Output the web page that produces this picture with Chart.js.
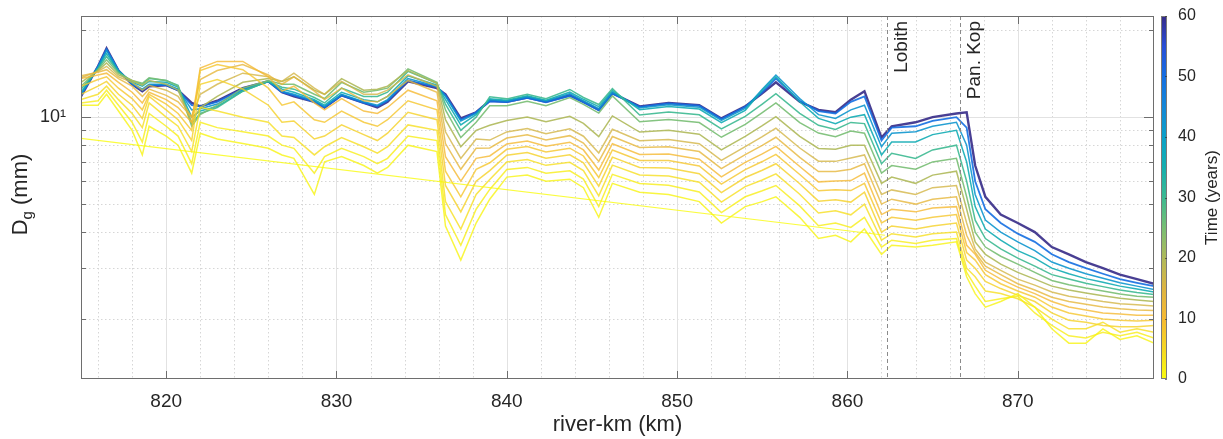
<!DOCTYPE html>
<html>
<head>
<meta charset="utf-8">
<script src="https://cdn.jsdelivr.net/npm/chart.js@4.4.1/dist/chart.umd.min.js"></script>
<style>
  html, body { margin: 0; padding: 0; background: #fff; }
  #wrap { width: 1223px; height: 439px; }
</style>
</head>
<body>
<div id="wrap"><canvas id="dgChart" width="1223" height="439"></canvas></div>
<script>
// river-km stations shared by all time profiles
const riverKm = [815, 816, 816.5, 817.2, 818, 818.6, 819, 820, 820.7, 821.5,
  822, 823, 824.5, 826, 826.8, 827.5, 828.7, 829.3, 830.3, 831.6,
  832.4, 833, 834.2, 835.9, 836.4, 837.3, 838.2, 839, 840, 841.2,
  842.3, 843.7, 844.5, 845.4, 846.2, 847.8, 849.5, 851.3, 852.6, 854,
  855, 855.8, 857.2, 858.3, 859.3, 860.2, 861, 862, 862.6, 864,
  865, 866.4, 867, 867.5, 868.1, 869, 870, 871, 872, 873,
  874, 875, 876, 877, 878];

// initial profile (t = 0), a straight line in log space
const initKm = [815, 862.2];
const dg_t0 = [8.45, 3.9];

// Dg (mm) per year
const dg_t1 = [11.0, 11.0, 12.0, 10.5, 9.0, 7.4, 9.3, 8.6, 8.0, 6.4,
  8.8, 8.4, 8.1, 7.8, 7.4, 7.2, 5.4, 7.0, 7.3, 6.8,
  6.4, 6.7, 8.0, 7.6, 4.2, 3.2, 4.3, 5.2, 6.2, 6.3,
  6.0, 6.1, 5.7, 4.5, 5.9, 5.5, 5.4, 5.1, 4.3, 4.9,
  5.1, 5.3, 4.5, 3.8, 3.9, 3.7, 4.1, 3.35, 3.6, 3.55,
  3.6, 3.7, 2.8, 2.45, 2.2, 2.3, 2.45, 2.2, 1.85, 1.65,
  1.65, 1.85, 1.7, 1.75, 1.65];
const dg_t2 = [11.2, 11.4, 12.4, 11.0, 9.6, 8.2, 10.3, 9.3, 8.6, 6.9,
  9.6, 9.2, 8.9, 8.6, 8.0, 7.8, 6.4, 7.3, 7.8, 7.3,
  6.9, 7.2, 8.6, 8.3, 4.6, 3.6, 4.8, 5.62, 6.59, 6.70,
  6.39, 6.52, 6.10, 4.9, 6.34, 5.89, 5.81, 5.51, 4.67, 5.3,
  5.56, 5.8, 4.93, 4.21, 4.3, 4.15, 4.5, 3.55, 3.75, 3.65,
  3.75, 3.8, 2.9, 2.6, 2.3, 2.35, 2.4, 2.1, 1.9, 1.75,
  1.72, 1.8, 1.75, 1.8, 1.72];
const dg_t4 = [11.5, 12.0, 12.8, 11.5, 10.3, 9.2, 11.2, 10.0, 9.3, 7.6,
  10.8, 10.5, 10.0, 9.6, 8.6, 8.5, 7.4, 7.9, 8.5, 7.9,
  7.5, 7.9, 9.4, 9.0, 5.1, 4.1, 5.4, 6.08, 6.99, 7.13,
  6.81, 6.98, 6.53, 5.34, 6.82, 6.31, 6.25, 5.95, 5.08, 5.75,
  6.06, 6.36, 5.41, 4.66, 4.74, 4.59, 5.0, 3.75, 3.95, 3.85,
  3.95, 4.0, 3.0, 2.8, 2.5, 2.45, 2.35, 2.2, 2.0, 1.85,
  1.85, 1.95, 1.8, 1.85, 1.8];
const dg_t6 = [12.0, 12.8, 13.3, 12.0, 11.0, 9.9, 11.8, 10.6, 9.8, 8.3,
  13.0, 13.5, 12.5, 11.0, 9.6, 9.7, 8.4, 8.6, 9.4, 8.7,
  8.3, 8.8, 10.4, 9.8, 5.8, 4.7, 6.0, 6.53, 7.38, 7.54,
  7.21, 7.41, 6.95, 5.77, 7.27, 6.70, 6.67, 6.37, 5.48, 6.18,
  6.55, 6.9, 5.88, 5.12, 5.18, 5.08, 5.5, 4.0, 4.2, 4.1,
  4.2, 4.3, 3.2, 3.0, 2.7, 2.55, 2.42, 2.3, 2.1, 1.98,
  1.95, 1.9, 1.88, 1.88, 1.9];
const dg_t8 = [12.8, 13.5, 13.8, 12.6, 11.6, 10.6, 12.0, 11.1, 10.3, 9.0,
  14.5, 15.2, 14.6, 12.6, 11.0, 11.3, 9.8, 9.6, 10.5, 9.6,
  9.3, 9.8, 11.4, 10.6, 6.5, 5.3, 6.6, 6.95, 7.74, 7.92,
  7.58, 7.81, 7.34, 6.18, 7.7, 7.08, 7.08, 6.78, 5.86, 6.58,
  7.02, 7.43, 6.33, 5.56, 5.61, 5.57, 5.9, 4.3, 4.5, 4.4,
  4.5, 4.6, 3.4, 3.2, 2.85, 2.65, 2.5, 2.38, 2.2, 2.1,
  2.05, 2.0, 1.98, 1.97, 1.98];
const dg_t10 = [13.6, 14.0, 14.2, 13.2, 12.2, 11.2, 12.2, 11.5, 10.8, 9.6,
  14.8, 15.6, 15.6, 13.8, 12.3, 12.8, 11.2, 10.6, 11.6, 10.5,
  10.3, 10.8, 12.4, 11.4, 7.3, 6.0, 7.2, 7.34, 8.08, 8.27,
  7.93, 8.19, 7.70, 6.56, 8.09, 7.43, 7.45, 7.15, 6.21, 6.97,
  7.46, 7.92, 6.75, 5.97, 6.01, 6.03, 6.4, 4.6, 4.8, 4.7,
  4.85, 4.9, 3.6, 3.35, 2.95, 2.75, 2.58, 2.45, 2.3, 2.2,
  2.15, 2.1, 2.08, 2.06, 2.06];
const dg_t13 = [13.9, 14.3, 14.6, 13.6, 12.8, 11.8, 12.5, 11.9, 11.3, 10.0,
  13.5, 14.5, 15.2, 14.0, 13.0, 13.8, 12.3, 11.5, 12.6, 11.4,
  11.3, 11.8, 13.4, 12.2, 8.1, 6.6, 7.8, 7.82, 8.47, 8.69,
  8.34, 8.63, 8.13, 7.03, 8.57, 7.85, 7.9, 7.6, 6.63, 7.42,
  7.99, 8.52, 7.26, 6.48, 6.49, 6.6, 6.9, 5.0, 5.2, 5.0,
  5.2, 5.3, 3.9, 3.4, 3.05, 2.85, 2.65, 2.52, 2.38, 2.3,
  2.25, 2.2, 2.17, 2.15, 2.14];
const dg_t16 = [13.7, 14.4, 15.0, 13.8, 13.2, 12.4, 12.9, 12.4, 11.8, 10.0,
  12.0, 13.0, 14.2, 13.8, 13.3, 14.2, 12.6, 12.0, 13.3, 12.0,
  12.0, 12.4, 14.0, 12.8, 8.9, 7.2, 8.4, 8.33, 8.89, 9.14,
  8.77, 9.11, 8.59, 7.52, 9.08, 8.29, 8.37, 8.09, 7.09, 7.91,
  8.56, 9.16, 7.82, 7.04, 7.03, 7.22, 7.4, 5.4, 5.6, 5.4,
  5.7, 5.8, 4.3, 3.5, 3.15, 2.95, 2.75, 2.62, 2.48, 2.4,
  2.35, 2.3, 2.26, 2.24, 2.22];
const dg_t20 = [13.2, 14.5, 15.4, 14.0, 13.4, 12.9, 13.4, 13.0, 12.4, 9.6,
  10.8, 11.8, 13.2, 13.6, 13.3, 13.8, 12.4, 12.0, 13.6, 12.4,
  12.5, 12.8, 14.5, 13.1, 9.8, 7.9, 9.0, 9.37, 9.73, 10.02,
  9.65, 10.07, 9.52, 8.56, 10.1, 8.88, 9.0, 8.73, 7.71, 8.58,
  9.34, 10.04, 8.58, 7.79, 7.75, 8.0, 8.0, 5.9, 6.2, 5.9,
  6.3, 6.5, 4.8, 3.7, 3.35, 3.1, 2.9, 2.75, 2.6, 2.52,
  2.46, 2.41, 2.36, 2.33, 2.3];
const dg_t25 = [12.8, 14.6, 15.8, 14.2, 13.4, 13.1, 13.7, 13.4, 12.8, 9.3,
  10.2, 11.0, 12.6, 13.4, 13.0, 13.0, 12.0, 11.6, 13.2, 12.2,
  12.4, 12.6, 14.7, 13.2, 10.6, 8.5, 9.6, 10.96, 10.96, 11.34,
  10.95, 11.7, 11.07, 10.33, 11.84, 9.64, 9.82, 9.58, 8.52, 9.44,
  10.36, 11.2, 9.57, 8.81, 8.55, 8.96, 8.8, 6.4, 6.8, 6.6,
  7.0, 7.2, 5.3, 4.0, 3.55, 3.3, 3.1, 2.9, 2.72, 2.63,
  2.56, 2.5, 2.44, 2.4, 2.38];
const dg_t30 = [12.5, 14.7, 16.2, 14.3, 13.3, 13.0, 13.6, 13.4, 12.9, 9.5,
  10.3, 10.8, 12.3, 13.3, 12.7, 12.5, 11.7, 11.2, 12.6, 11.8,
  11.8, 12.2, 14.4, 13.1, 11.1, 9.0, 10.0, 11.77, 11.57, 12.0,
  11.59, 12.47, 11.7, 11.06, 12.55, 10.18, 10.41, 10.19, 9.11, 10.06,
  11.1, 12.05, 10.31, 9.37, 9.07, 9.59, 9.5, 6.9, 7.5, 7.2,
  7.7, 8.0, 6.0, 4.4, 3.8, 3.5, 3.25, 3.05, 2.85, 2.75,
  2.66, 2.59, 2.52, 2.47, 2.43];
const dg_t36 = [12.2, 14.8, 16.6, 14.4, 13.2, 12.8, 13.3, 13.2, 12.7, 10.0,
  10.5, 10.9, 12.3, 13.3, 12.5, 12.2, 11.5, 11.0, 12.2, 11.5,
  11.3, 11.8, 13.9, 12.9, 11.5, 9.4, 10.2, 11.58, 11.44, 11.85,
  11.44, 12.22, 11.53, 10.88, 12.36, 10.61, 10.88, 10.67, 9.57, 10.56,
  12.4, 13.8, 11.3, 9.9, 9.5, 10.0, 10.2, 7.4, 8.2, 8.2,
  8.7, 9.0, 7.0, 4.9, 4.1, 3.75, 3.45, 3.25, 3.0, 2.87,
  2.76, 2.68, 2.6, 2.54, 2.48];
const dg_t42 = [12.0, 14.9, 17.0, 14.5, 13.1, 12.5, 13.0, 13.0, 12.5, 10.6,
  10.7, 11.1, 12.4, 13.3, 12.3, 12.0, 11.4, 10.9, 12.0, 11.3,
  11.0, 11.5, 13.6, 12.8, 11.8, 9.7, 10.3, 11.49, 11.37, 11.77,
  11.37, 12.06, 11.38, 10.69, 12.19, 10.75, 11.04, 10.83, 9.74, 10.73,
  12.5, 14.0, 11.6, 10.2, 9.9, 10.6, 11.0, 7.9, 8.8, 8.9,
  9.3, 9.6, 8.0, 5.4, 4.4, 4.0, 3.7, 3.45, 3.15, 3.0,
  2.87, 2.77, 2.67, 2.6, 2.53];
const dg_t50 = [11.9, 15.0, 17.2, 14.5, 13.0, 12.4, 12.9, 12.9, 12.4, 11.0,
  10.9, 11.3, 12.5, 13.3, 12.2, 11.9, 11.3, 10.8, 11.9, 11.2,
  10.9, 11.4, 13.4, 12.7, 11.9, 9.8, 10.4, 11.35, 11.27, 11.66,
  11.26, 11.86, 11.26, 10.55, 12.06, 10.86, 11.16, 10.96, 9.86, 10.86,
  12.2, 13.6, 11.4, 10.5, 10.3, 11.3, 11.8, 8.3, 9.2, 9.3,
  9.7, 10.0, 9.2, 6.0, 4.8, 4.3, 3.95, 3.7, 3.35, 3.15,
  3.0, 2.87, 2.75, 2.67, 2.6];
const dg_t60 = [11.8, 15.0, 17.3, 14.5, 13.0, 12.3, 12.8, 12.9, 12.4, 11.2,
  10.9, 11.4, 12.6, 13.3, 12.2, 11.8, 11.3, 10.8, 11.9, 11.2,
  10.8, 11.3, 13.3, 12.6, 12.0, 9.9, 10.4, 11.4, 11.3, 11.7,
  11.3, 11.9, 11.3, 10.6, 12.1, 10.9, 11.2, 11.0, 9.9, 10.9,
  12.1, 13.2, 11.3, 10.6, 10.4, 11.5, 12.3, 8.5, 9.3, 9.6,
  10.0, 10.3, 10.4, 6.8, 5.3, 4.6, 4.3, 4.0, 3.55, 3.35,
  3.15, 3.0, 2.85, 2.75, 2.65];

const years = [1, 2, 4, 6, 8, 10, 13, 16, 20, 25, 30, 36, 42, 50, 60];
const profiles = [dg_t1, dg_t2, dg_t4, dg_t6, dg_t8, dg_t10, dg_t13, dg_t16,
  dg_t20, dg_t25, dg_t30, dg_t36, dg_t42, dg_t50, dg_t60];

const xTicks = [820, 830, 840, 850, 860, 870];
const yTicks = [2, 3, 4, 5, 6, 7, 8, 9, 10, 20];
const timeTicks = [0, 10, 20, 30, 40, 50, 60];
const stations = [
  { name: "Lobith", km: 862.3 },
  { name: "Pan. Kop", km: 866.6 }
];

const FONT = "'Liberation Sans', Arial, Helvetica, sans-serif";
const INK = "#262626";

// flipped parula: 60 years dark blue, 0 years yellow
const PARULA = [
  [53, 42, 135], [40, 78, 215], [20, 110, 225], [20, 135, 215], [10, 160, 200],
  [20, 175, 175], [60, 185, 145], [120, 190, 115], [175, 185, 90], [220, 180, 65],
  [245, 185, 50], [245, 215, 35], [249, 251, 14]
];

function parula(p) {
  const n = PARULA.length - 1;
  const s = Math.min(Math.max(p, 0), 1) * n;
  const i = Math.min(Math.floor(s), n - 1);
  const f = s - i;
  return PARULA[i].map((v, k) => Math.round(v + (PARULA[i + 1][k] - v) * f));
}

function timeColor(t, alpha) {
  const c = parula(1 - t / 60);
  return `rgba(${c[0]},${c[1]},${c[2]},${alpha})`;
}

const datasets = [{
  data: initKm.map((km, i) => ({ x: km, y: dg_t0[i] })),
  borderColor: timeColor(0, 0.8),
  borderWidth: 1.2
}];

years.forEach((t, j) => {
  datasets.push({
    data: riverKm.map((km, i) => ({ x: km, y: profiles[j][i] })),
    borderColor: timeColor(t, t < 20 ? 0.8 : 0.9),
    borderWidth: t === 60 ? 2.4 : (t >= 50 ? 1.8 : 1.5)
  });
});

function strokeLine(ctx, x1, y1, x2, y2) {
  ctx.beginPath();
  ctx.moveTo(x1, y1);
  ctx.lineTo(x2, y2);
  ctx.stroke();
}

function noPadV(s) { s.paddingTop = 0; s.paddingBottom = 0; }

const frame = {
  id: "frame",
  beforeDatasetsDraw(chart) {
    const { ctx, chartArea: a, scales: { x, y } } = chart;
    ctx.save();
    ctx.lineWidth = 1;

    // minor grid
    ctx.strokeStyle = "#d6d6d6";
    ctx.setLineDash([1.5, 2.5]);
    for (let k = 816; k <= 876; k += 2) {
      if (xTicks.includes(k)) continue;
      const px = Math.round(x.getPixelForValue(k)) + 0.5;
      strokeLine(ctx, px, a.top, px, a.bottom);
    }
    yTicks.forEach(v => {
      if (v === 10) return;
      const py = Math.round(y.getPixelForValue(v)) + 0.5;
      strokeLine(ctx, a.left, py, a.right, py);
    });

    // major grid
    ctx.setLineDash([]);
    ctx.strokeStyle = "#e2e2e2";
    xTicks.forEach(k => {
      const px = Math.round(x.getPixelForValue(k)) + 0.5;
      strokeLine(ctx, px, a.top, px, a.bottom);
    });
    const p10 = Math.round(y.getPixelForValue(10)) + 0.5;
    strokeLine(ctx, a.left, p10, a.right, p10);
    ctx.restore();
  },

  afterDatasetsDraw(chart) {
    const { ctx, chartArea: a, scales: { x, y, time } } = chart;
    ctx.save();

    // stations
    ctx.strokeStyle = "#8a8a8a";
    ctx.lineWidth = 1;
    ctx.setLineDash([4, 3]);
    stations.forEach(s => {
      const px = Math.round(x.getPixelForValue(s.km)) + 0.5;
      strokeLine(ctx, px, a.top, px, a.bottom);
    });
    ctx.setLineDash([]);
    ctx.fillStyle = INK;
    ctx.font = `19px ${FONT}`;
    ctx.textAlign = "right";
    ctx.textBaseline = "middle";
    stations.forEach(s => {
      const px = x.getPixelForValue(s.km);
      ctx.save();
      ctx.translate(px + 15, a.top + 5);
      ctx.rotate(-Math.PI / 2);
      ctx.fillText(s.name, 0, 0);
      ctx.restore();
    });

    // box and inward ticks
    ctx.strokeStyle = "#6e6e6e";
    ctx.lineWidth = 1;
    ctx.strokeRect(a.left + 0.5, a.top + 0.5, a.right - a.left - 1, a.bottom - a.top - 1);
    xTicks.forEach(k => {
      const px = Math.round(x.getPixelForValue(k)) + 0.5;
      strokeLine(ctx, px, a.bottom, px, a.bottom - 8);
      strokeLine(ctx, px, a.top, px, a.top + 8);
    });
    yTicks.forEach(v => {
      const py = Math.round(y.getPixelForValue(v)) + 0.5;
      const len = v === 10 ? 10 : 5;
      strokeLine(ctx, a.left, py, a.left + len, py);
      strokeLine(ctx, a.right, py, a.right - len, py);
    });

    // colorbar
    const cbL = a.right + 7, cbW = 6;
    const top = time.getPixelForValue(60), bot = time.getPixelForValue(0);
    const grad = ctx.createLinearGradient(0, bot, 0, top);
    for (let i = 0; i <= 24; i++) {
      const c = parula(1 - i / 24);
      grad.addColorStop(i / 24, `rgb(${c[0]},${c[1]},${c[2]})`);
    }
    ctx.fillStyle = grad;
    ctx.fillRect(cbL, top, cbW, bot - top);
    ctx.strokeStyle = "#7a7a7a";
    ctx.strokeRect(cbL + 0.5, top + 0.5, cbW - 1, bot - top - 1);
    ctx.strokeStyle = "rgba(40,40,40,0.6)";
    timeTicks.forEach(v => {
      const py = Math.round(time.getPixelForValue(v)) + 0.5;
      strokeLine(ctx, cbL + cbW - 2, py, cbL + cbW, py);
    });

    // colorbar title
    ctx.fillStyle = INK;
    ctx.font = `17px ${FONT}`;
    ctx.textAlign = "center";
    ctx.textBaseline = "middle";
    ctx.save();
    ctx.translate(1212, (a.top + a.bottom) / 2);
    ctx.rotate(-Math.PI / 2);
    ctx.fillText("Time (years)", 0, 0);
    ctx.restore();

    // y title with subscript
    ctx.save();
    ctx.translate(21, (a.top + a.bottom) / 2 - 3);
    ctx.rotate(-Math.PI / 2);
    ctx.textAlign = "left";
    ctx.font = `22px ${FONT}`;
    const wD = ctx.measureText("D").width;
    const wR = ctx.measureText(" (mm)").width;
    ctx.font = `15px ${FONT}`;
    const wg = ctx.measureText("g").width;
    let sx = -(wD + wg + wR) / 2;
    ctx.font = `22px ${FONT}`;
    ctx.fillText("D", sx, 0);
    sx += wD;
    ctx.font = `15px ${FONT}`;
    ctx.fillText("g", sx, 7);
    sx += wg;
    ctx.font = `22px ${FONT}`;
    ctx.fillText(" (mm)", sx, 0);
    ctx.restore();

    ctx.restore();
  }
};

new Chart(document.getElementById("dgChart"), {
  type: "line",
  data: { datasets },
  options: {
    responsive: false,
    animation: false,
    devicePixelRatio: 1,
    elements: { point: { radius: 0 }, line: { tension: 0, fill: false } },
    layout: { padding: { top: 16, left: 0, right: 0, bottom: 0 } },
    plugins: { legend: { display: false }, tooltip: { enabled: false } },
    scales: {
      x: {
        type: "linear",
        min: 815,
        max: 878,
        afterBuildTicks: s => { s.ticks = xTicks.map(v => ({ value: v })); },
        afterFit: s => { s.height = 60; s.paddingLeft = 0; s.paddingRight = 0; },
        grid: { display: false, drawTicks: false },
        border: { display: false },
        ticks: { autoSkip: false, maxRotation: 0, padding: 11, color: INK, font: { family: FONT, size: 19 } },
        title: { display: true, text: "river-km (km)", color: INK, font: { family: FONT, size: 22 }, padding: { top: 0, bottom: 1 } }
      },
      y: {
        type: "logarithmic",
        min: 1.24,
        max: 22.4,
        afterBuildTicks: s => { s.ticks = yTicks.map(v => ({ value: v })); },
        afterFit: s => { s.width = 81; noPadV(s); },
        grid: { display: false, drawTicks: false },
        border: { display: false },
        ticks: {
          autoSkip: false,
          padding: 15,
          color: INK,
          font: { family: FONT, size: 18 },
          callback: v => (v === 10 ? "10\u00b9" : "")
        }
      },
      time: {
        type: "linear",
        position: "right",
        min: 0,
        max: 60,
        afterBuildTicks: s => { s.ticks = timeTicks.map(v => ({ value: v })); },
        afterFit: s => { s.width = 69; noPadV(s); },
        grid: { display: false, drawTicks: false, drawOnChartArea: false },
        border: { display: false },
        ticks: { autoSkip: false, padding: 24, color: INK, font: { family: FONT, size: 16 } }
      }
    }
  },
  plugins: [frame]
});
</script>
</body>
</html>
